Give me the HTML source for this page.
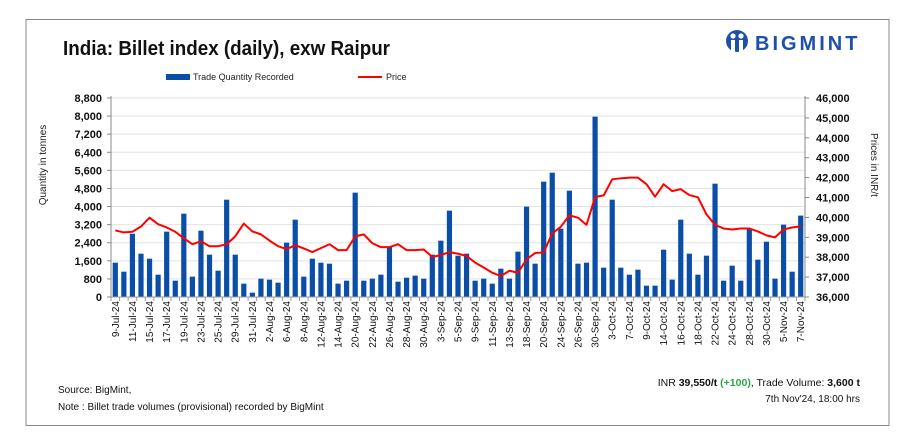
<!DOCTYPE html>
<html><head><meta charset="utf-8">
<style>
html,body{margin:0;padding:0;background:#fff;}
svg{display:block;font-family:"Liberation Sans",sans-serif;}
</style></head>
<body>
<svg id="chart" width="923" height="442" viewBox="0 0 923 442">
  <rect x="26" y="19.5" width="863" height="406" fill="#fff" stroke="#8a8a8a" stroke-width="1"/>
  <text x="63" y="55" font-size="20" font-weight="bold" fill="#111" textLength="327" lengthAdjust="spacingAndGlyphs">India: Billet index (daily), exw Raipur</text>
  <g>
    <circle cx="737" cy="41" r="11" fill="#1f4fa8"/>
    <circle cx="733" cy="36" r="2.6" fill="#fff"/>
    <circle cx="741" cy="36" r="2.6" fill="#fff"/>
    <rect x="731" y="40" width="4" height="12" fill="#fff"/>
    <rect x="739" y="40" width="4" height="12" fill="#fff"/>
    <text x="755" y="50" font-size="20" font-weight="bold" fill="#1f4fa8" letter-spacing="3">BIGMINT</text>
  </g>
  <g>
    <rect x="166" y="74" width="24" height="6" fill="#0b4ea8"/>
    <text x="193" y="80" font-size="9" fill="#222">Trade Quantity Recorded</text>
    <line x1="358" y1="77" x2="382" y2="77" stroke="#f00" stroke-width="2"/>
    <text x="386" y="80" font-size="9" fill="#222">Price</text>
  </g>
  <g id="grid"></g>
  <g id="bars"></g>
  <g id="line"></g>
  <g id="axes"></g>
  <text transform="translate(46,165) rotate(-90)" text-anchor="middle" font-size="10" fill="#222">Quantity in tonnes</text>
  <text transform="translate(871,165) rotate(90)" text-anchor="middle" font-size="10" fill="#222">Prices in INR/t</text>
  <text x="58" y="393" font-size="10" fill="#111">Source: BigMint,</text>
  <text x="58" y="410" font-size="10" fill="#111">Note : Billet trade volumes (provisional) recorded by BigMint</text>
  <text x="860" y="386" text-anchor="end" font-size="10.5" fill="#111">INR <tspan font-weight="bold">39,550/t</tspan> <tspan font-weight="bold" fill="#2ea64a">(+100)</tspan>, Trade Volume: <tspan font-weight="bold">3,600 t</tspan></text>
  <text x="860" y="402" text-anchor="end" font-size="10" fill="#111">7th Nov'24, 18:00 hrs</text>
</svg>
<script>
const labels = ["9-Jul-24","11-Jul-24","15-Jul-24","17-Jul-24","19-Jul-24","23-Jul-24","25-Jul-24","29-Jul-24","31-Jul-24","2-Aug-24","6-Aug-24","8-Aug-24","12-Aug-24","14-Aug-24","20-Aug-24","22-Aug-24","26-Aug-24","28-Aug-24","30-Aug-24","3-Sep-24","5-Sep-24","9-Sep-24","11-Sep-24","13-Sep-24","18-Sep-24","20-Sep-24","24-Sep-24","26-Sep-24","30-Sep-24","3-Oct-24","7-Oct-24","9-Oct-24","14-Oct-24","16-Oct-24","18-Oct-24","22-Oct-24","24-Oct-24","28-Oct-24","30-Oct-24","5-Nov-24","7-Nov-24"];
const quantity = [1518,1120,2800,1916,1695,988,2890,722,3685,900,2933,1872,1164,4304,1872,590,192,811,767,634,2403,3420,900,1695,1518,1474,590,722,4614,722,811,988,2226,678,855,944,811,1872,2491,3818,1828,1916,722,811,590,1253,811,2005,3995,1474,5100,5498,3022,4702,1474,1518,7974,1297,4304,1297,988,1209,501,501,2093,767,3420,1916,988,1828,5012,722,1386,722,3022,1651,2447,811,3199,1120,3600];
const price = [39344,39245,39278,39542,39987,39657,39493,39278,38949,38652,38800,38553,38553,38652,39048,39690,39295,39147,38834,38553,38405,38603,38438,38257,38455,38652,38356,38356,39048,39147,38702,38504,38504,38652,38356,38356,38389,38010,38109,38257,38175,38060,37730,37483,37219,37054,37318,37219,37895,38208,38241,39196,39526,40102,39987,39624,41025,41107,41914,41964,41997,41997,41667,41041,41667,41321,41420,41124,41008,40152,39624,39443,39394,39443,39443,39295,39097,38998,39394,39493,39550];
const leftTicks = [0,800,1600,2400,3200,4000,4800,5600,6400,7200,8000,8800];
const rightTicks = [36000,37000,38000,39000,40000,41000,42000,43000,44000,45000,46000];

const NS="http://www.w3.org/2000/svg";
const X0=111, X1=805, Y0=297, Y1=98;
const n = quantity.length;
const bw = (X1-X0)/n;
const xC = i => X0 + bw*(i+0.5);
const yL = v => Y0 - (v-0)/(8800-0)*(Y0-Y1);
const yR = v => Y0 - (v-36000)/(46000-36000)*(Y0-Y1);
function mk(tag, attrs, parent){const e=document.createElementNS(NS,tag);for(const k in attrs)e.setAttribute(k,attrs[k]);parent.appendChild(e);return e;}
const fmt = v => v.toLocaleString("en-US");
const grid=document.getElementById("grid"), bars=document.getElementById("bars"), line=document.getElementById("line"), axes=document.getElementById("axes");

leftTicks.forEach(t=>{
  if(t>0){const g=mk("line",{x1:X0,x2:X1,y1:yL(t),y2:yL(t),stroke:"#e3e3e3","stroke-width":1},grid);
  
  }
  const tk=mk("line",{x1:X0-4,x2:X0,y1:yL(t),y2:yL(t),stroke:"#888"},axes);
  
  
  const tx=mk("text",{x:X0-9,y:yL(t)+4,"text-anchor":"end","font-size":"11","font-weight":"bold",fill:"#111"},axes);
  tx.textContent=fmt(t);
  
  
});
rightTicks.forEach(t=>{
  const tk=mk("line",{x1:X1,x2:X1+4,y1:yR(t),y2:yR(t),stroke:"#888"},axes);
  
  
  const tx=mk("text",{x:X1+11,y:yR(t)+4,"font-size":"11","font-weight":"bold",fill:"#111"},axes);
  tx.textContent=fmt(t);
  
  
});
quantity.forEach((v,i)=>{
  const r=mk("rect",{x:xC(i)-2.6,y:yL(v),width:5.2,height:Y0-yL(v),fill:"#0b4ea8"},bars);
  
  
});
const pl=mk("polyline",{points:price.map((v,i)=>xC(i)+","+yR(v)).join(" "),fill:"none",stroke:"#f00","stroke-width":2,"stroke-linejoin":"round"},line);


const la=mk("line",{x1:X0,x2:X0,y1:Y1-2,y2:Y0,stroke:"#888"},axes);


const ra=mk("line",{x1:X1,x2:X1,y1:Y1-2,y2:Y0,stroke:"#888"},axes);


const xa=mk("line",{x1:X0,x2:X1,y1:Y0,y2:Y0,stroke:"#999"},axes);


for(let i=0;i<=n;i++){
  const tk=mk("line",{x1:X0+bw*i,x2:X0+bw*i,y1:Y0,y2:Y0+4,stroke:"#999"},axes);
  
  
}
labels.forEach((l,j)=>{
  const i=j*2, x=xC(i)+3.5, y=301;
  const tx=mk("text",{transform:"translate("+x+","+y+") rotate(-90)","text-anchor":"end","font-size":"10",fill:"#111"},axes);
  tx.textContent=l;
  
  
});
</script>
</body></html>
